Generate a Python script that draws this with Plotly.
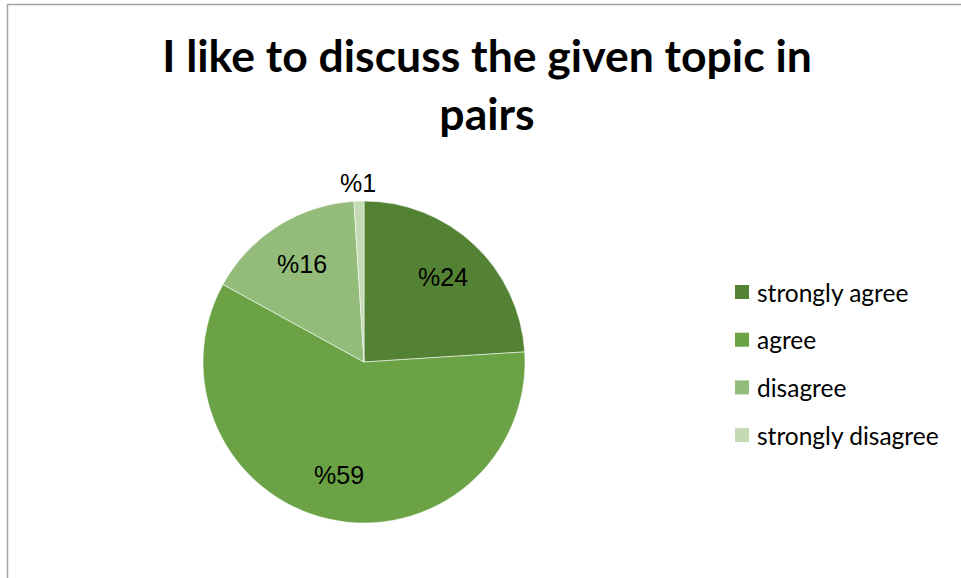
import math
import plotly.graph_objects as go

# Survey responses
categories = ["strongly agree", "agree", "disagree", "strongly disagree"]
values = [24, 59, 16, 1]
label_texts = ["%24", "%59", "%16", "%1"]
colors = ["#548235", "#6aa245", "#93bb79", "#c3dab4"]
title_text = "I like to discuss the given topic in<br>pairs"

W, H = 961, 578
# Pie placement in pixels
cx, cy, R = 364, 362, 161


def px_to_paper(x, y):
    return x / W, 1 - y / H


fig = go.Figure()
fig.add_trace(go.Pie(
    labels=categories,
    values=values,
    sort=False,
    direction="clockwise",
    rotation=0,
    marker=dict(colors=colors, line=dict(color="rgba(255,255,255,0.55)", width=1)),
    textinfo="none",
    hoverinfo="label+percent",
    showlegend=False,
    domain=dict(x=[(cx - R) / W, (cx + R) / W], y=[1 - (cy + R) / H, 1 - (cy - R) / H]),
))

annotations = []
# Slice value labels at the slice mid-angles
total = sum(values)
cum = 0
for v, t in zip(values, label_texts):
    mid = (cum + v / 2) / total * 2 * math.pi
    cum += v
    f = 1.11 if v / total < 0.05 else 0.72
    lx = cx + R * f * math.sin(mid)
    ly = cy - R * f * math.cos(mid)
    xp, yp = px_to_paper(lx, ly)
    annotations.append(dict(x=xp, y=yp, xref="paper", yref="paper", text=t, showarrow=False,
                            font=dict(family="Liberation Sans, Arial", size=25, color="#000000"),
                            xanchor="center", yanchor="middle"))

# Legend: colored squares with labels
shapes = []
leg_x, leg_y0, leg_step, sq = 735, 292, 47.7, 14
for i, (c, name) in enumerate(zip(colors, categories)):
    yc = leg_y0 + i * leg_step
    x0, y0 = px_to_paper(leg_x, yc + sq / 2)
    x1, y1 = px_to_paper(leg_x + sq, yc - sq / 2)
    shapes.append(dict(type="rect", xref="paper", yref="paper", x0=x0, y0=y0, x1=x1, y1=y1,
                       fillcolor=c, line=dict(width=0)))
    tx, ty = px_to_paper(leg_x + 20, yc)
    annotations.append(dict(x=tx, y=ty, xref="paper", yref="paper", text=name, showarrow=False,
                            font=dict(family="Lato, Carlito, Calibri", size=24.5, color="#000000"),
                            xanchor="left", yanchor="middle"))

# Chart area border (top and left edges visible)
shapes.append(dict(type="rect", xref="paper", yref="paper",
                   x0=7.5 / W, y0=-0.05, x1=1.05, y1=1 - 4.5 / H,
                   line=dict(color="#a3a3a3", width=1.5), fillcolor="rgba(0,0,0,0)"))

fig.update_layout(
    width=W, height=H,
    margin=dict(l=0, r=0, t=0, b=0),
    paper_bgcolor="white",
    plot_bgcolor="white",
    title=dict(text=title_text, x=487 / W, xanchor="center", y=1 - 72 / H, yanchor="middle",
               font=dict(family="Lato, Carlito, Calibri", size=44.5, color="#000000", weight="bold")),
    annotations=annotations,
    shapes=shapes,
)

fig.write_html("out.html")
